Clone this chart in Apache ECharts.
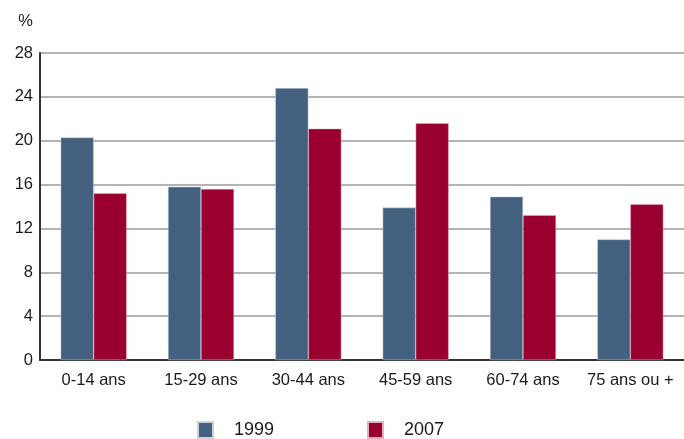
<!DOCTYPE html>
<html>
<head>
<meta charset="utf-8">
<script src="https://cdn.jsdelivr.net/npm/echarts@6/dist/echarts.min.js"></script>
<style>
    body { margin: 0; background: #fff; }
    #chart { width: 684px; height: 439px; }
</style>
</head>
<body>
<div id="chart"></div>
<script>
    var categories = ['0-14 ans', '15-29 ans', '30-44 ans', '45-59 ans', '60-74 ans', '75 ans ou +'];
    var values1999 = [20.3, 15.8, 24.8, 13.9, 14.9, 11.0];
    var values2007 = [15.2, 15.6, 21.1, 21.6, 13.2, 14.2];
    var yTicks = { min: 0, max: 28, interval: 4 };

    var blue = '#43617f';
    var red = '#990030';
    var font = '"Liberation Sans", Arial, sans-serif';

    var chart = echarts.init(document.getElementById('chart'));
    chart.setOption({
        animation: false,
        grid: { left: 40, right: -4, top: 53, bottom: 79, containLabel: false },
        legend: [
            {
                data: ['1999'], left: 192, top: 416,
                itemWidth: 15, itemHeight: 16, icon: 'rect',
                textStyle: { fontFamily: font, fontSize: 18, color: '#1a1a1a', padding: [0, 0, 0, 16] }
            },
            {
                data: ['2007'], left: 362, top: 416,
                itemWidth: 15, itemHeight: 16, icon: 'rect',
                textStyle: { fontFamily: font, fontSize: 18, color: '#1a1a1a', padding: [0, 0, 0, 16] }
            }
        ],
        xAxis: {
            type: 'category',
            data: categories,
            axisLine: { lineStyle: { color: '#333', width: 2 } },
            axisTick: { show: false },
            axisLabel: { fontFamily: font, fontSize: 16.5, color: '#1a1a1a', margin: 12, interval: 0 }
        },
        yAxis: {
            type: 'value',
            min: yTicks.min, max: yTicks.max, interval: yTicks.interval,
            name: '%',
            nameLocation: 'end',
            nameGap: 23,
            nameTextStyle: { fontFamily: font, fontSize: 16.5, color: '#1a1a1a', align: 'right', padding: [0, 7, 0, 0] },
            axisLine: { show: true, lineStyle: { color: '#333', width: 2 } },
            axisTick: { show: false },
            splitLine: { lineStyle: { color: '#b4b4b4', width: 2 } },
            axisLabel: { fontFamily: font, fontSize: 16.5, color: '#1a1a1a', margin: 7 }
        },
        series: [
            {
                name: '1999', type: 'bar', data: values1999,
                barWidth: 33, barGap: '0%',
                itemStyle: { color: blue, borderColor: '#c8d2dc', borderWidth: 0.5 }
            },
            {
                name: '2007', type: 'bar', data: values2007,
                barWidth: 33,
                itemStyle: { color: red, borderColor: '#e4b0c0', borderWidth: 0.5 }
            }
        ]
    });
</script>
</body>
</html>
